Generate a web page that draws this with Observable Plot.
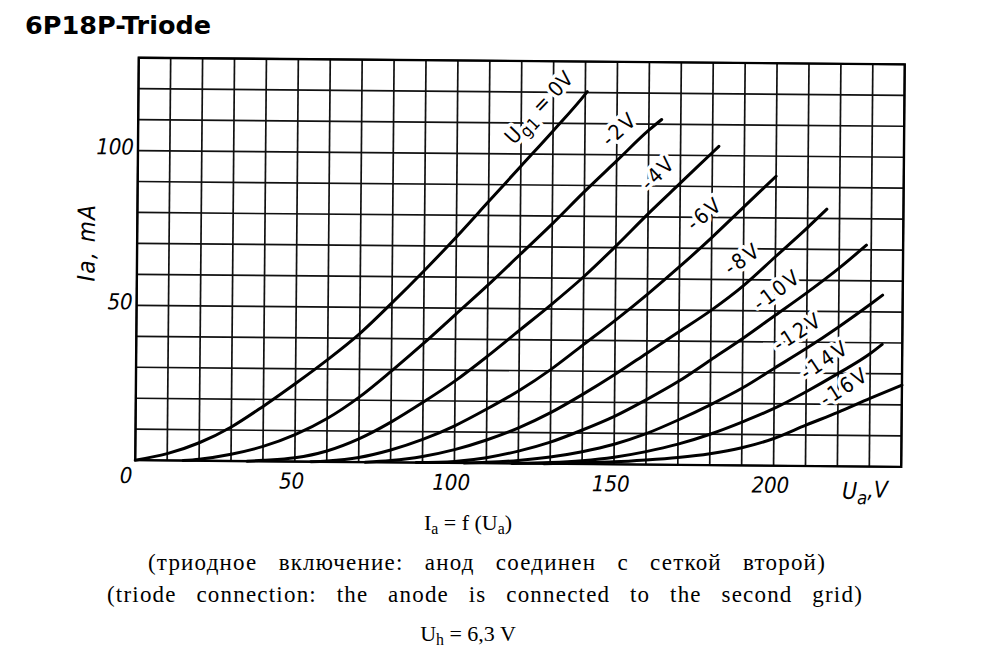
<!DOCTYPE html>
<html>
<head>
<meta charset="utf-8">
<script src="https://cdn.jsdelivr.net/npm/d3@7"></script>
<script src="https://cdn.jsdelivr.net/npm/@observablehq/plot@0.6"></script>
<style>
  html, body { margin: 0; padding: 0; background: #fff; }
  #wrap { position: relative; width: 991px; height: 660px; overflow: hidden; background: #fff; }
  #title { position: absolute; left: 25px; top: 10px; font: bold 25.5px "DejaVu Sans", sans-serif; color: #000; white-space: nowrap; }
  #chart { position: absolute; left: 0; top: 40px; transform: rotate(0.5deg); transform-origin: 519.5px 221.75px; }
  .cap { position: absolute; white-space: nowrap; font-family: "Liberation Serif", "DejaVu Serif", serif; font-size: 22px; line-height: 22px; color: #000; transform: translateX(-50%); }
  .cap.wide { font-size: 23px; line-height: 23px; }
  .cap sub { font-size: 0.72em; vertical-align: -0.28em; line-height: 0; }
  .curve-labels text { letter-spacing: 2.5px; }
  .ylab text { letter-spacing: 1.5px; }
</style>
</head>
<body>
<div id="wrap">
  <div id="title">6P18P-Triode</div>
  <div id="chart"></div>
  <div class="cap" id="cap1" style="left:468px;top:512px">I<sub>a</sub> = f (U<sub>a</sub>)</div>
  <div class="cap wide" id="cap2" style="left:487px;top:551px">(триодное включение: анод соединен с сеткой второй)</div>
  <div class="cap wide" id="cap3" style="left:485px;top:583px">(triode connection: the anode is connected to the second grid)</div>
  <div class="cap" id="cap4" style="left:468px;top:623px">U<sub>h</sub> = 6,3 V</div>
</div>
<script>
// Anode characteristic curves: [Ua (V), Ia (mA)] for each grid voltage Ug1
const ug0  = [[0,0],[10,2.2],[20,5.8],[30,11],[40,17.8],[50,25.2],[60,33],[70,41.5],[80,51.5],[90,62],[100,73],[110,84.5],[120,96],[130,107.5],[140,119.5],[140.6,120.3]];
const ug2  = [[15,0],[20,0.5],[30,2.2],[40,4.8],[50,8.7],[60,14],[70,21],[80,29.5],[90,38.5],[100,48],[110,57.5],[120,67.5],[130,77.5],[140,88],[150,98],[160,108],[164,111.5]];
const ug4  = [[35,0],[40,0.3],[50,1.2],[60,3.5],[70,7.5],[80,13],[90,19.5],[100,26.5],[110,34.5],[120,43],[130,51.5],[140,60.5],[150,70.5],[160,81],[170,91],[180,101],[182,103]];
const ug6  = [[55,0],[60,0.3],[70,1.5],[80,4],[90,7.5],[100,12],[110,17.5],[120,23.5],[130,30.5],[140,38.5],[150,46.5],[160,55],[170,64],[180,73.5],[190,83.5],[200,93.5]];
const ug8  = [[72,0],[80,0.6],[90,2],[100,4.3],[110,7.5],[120,11.5],[130,16.5],[140,22.5],[150,29],[160,36],[170,43],[180,50],[190,58],[200,67.5],[210,77],[216,83]];
const ug10 = [[88,0],[100,0.5],[110,1.8],[120,4],[130,7],[140,11],[150,15.5],[160,21],[170,27],[180,34],[190,41],[200,48.5],[210,56],[220,64],[228.5,71.5]];
const ug12 = [[103,0],[110,0.3],[120,1],[130,2.2],[140,4],[150,6.5],[160,10],[170,14.5],[180,19.5],[190,25],[200,31.5],[210,38],[220,45],[230,52.5],[233.7,55.4]];
const ug14 = [[118,0],[130,0.4],[140,1.1],[150,2.3],[160,4.2],[170,6.7],[180,10],[190,14],[200,18.5],[210,24],[220,30],[230,36.5],[233.7,39.5]];
const ug16 = [[128,0],[140,0.4],[150,0.8],[160,1.5],[170,2.4],[180,3.7],[190,5.7],[200,8.8],[210,13.2],[220,17.4],[230,22],[240,26.4]];

const gridVoltages = ["0V","-2V","-4V","-6V","-8V","-10V","-12V","-14V","-16V"];
const curveSets = [ug0, ug2, ug4, ug6, ug8, ug10, ug12, ug14, ug16];

// Curve labels (text and where they sit, in data units)
const labelTexts = ["Ug1 = 0V","-2V","-4V","-6V","-8V","-10V","-12V","-14V","-16V"];
const labelU = [125.8, 150.9, 163.1, 177.8, 189.8, 200.7, 207.3, 215.8, 222];
const labelI = [114.8, 108.2, 94.2, 81.1, 66.6, 56.7, 43.2, 34.2, 25.6];
const labelAngle = [-47, -42, -45, -40, -36, -37, -33, -34, -33];

// Axes
const xTickLabels = [0, 50, 100, 150, 200];
const yTickLabels = [50, 100];
const gridU = d3.range(0, 241, 10);
const gridI = d3.range(0, 131, 10);

const rows = curveSets.flatMap((set, k) => set.map(([U, I]) => ({grid: gridVoltages[k], U, I})));
const labelRows = labelTexts.map((t, k) => ({text: t, U: labelU[k], I: labelI[k], angle: labelAngle[k]}));

const narrow = '"Liberation Sans Narrow", "DejaVu Sans Condensed", "Liberation Sans", sans-serif';
const tickFont = {fontFamily: narrow, fontStyle: "italic", fontSize: 22, fill: "#000"};
const labelFont = {fontFamily: narrow, fontSize: 21, x: "U", y: "I", text: "text", rotate: "angle", className: "curve-labels"};

const plot = Plot.plot({
  width: 991,
  height: 470,
  marginTop: 20.5,
  marginBottom: 47,
  marginLeft: 136.5,
  marginRight: 88.5,
  x: {domain: [0, 240], axis: null},
  y: {domain: [0, 130], axis: null},
  style: {background: "white", overflow: "visible"},
  marks: [
    Plot.ruleX(gridU, {stroke: "#111", strokeWidth: 1.7}),
    Plot.ruleY(gridI, {stroke: "#111", strokeWidth: 1.7}),
    // white knock-out behind labels (breaks the grid, not the curves)
    Plot.text(labelRows, {...labelFont, fill: "white", stroke: "white", strokeWidth: 7}),
    Plot.frame({stroke: "#000", strokeWidth: 2.4}),
    Plot.line(rows, {x: "U", y: "I", z: "grid", curve: "monotone-x", stroke: "#000", strokeWidth: 3}),
    Plot.text(labelRows, {...labelFont, fill: "#000"}),
    Plot.text(xTickLabels.filter(d => d > 0), {x: d => d, text: d => String(d), frameAnchor: "bottom", dy: 20, dx: -3, textAnchor: "middle", lineAnchor: "middle", ...tickFont}),
    Plot.text(xTickLabels.filter(d => d === 0), {text: d => String(d), frameAnchor: "bottom-left", dy: 16, dx: -9, textAnchor: "middle", lineAnchor: "middle", ...tickFont}),
    Plot.text(yTickLabels, {y: d => d, text: d => String(d), frameAnchor: "left", dx: -4, dy: -3, textAnchor: "end", lineAnchor: "middle", ...tickFont}),
    Plot.text(["Ia, mA"], {text: d => d, frameAnchor: "left", dx: -50, dy: -16, rotate: -90, textAnchor: "middle", lineAnchor: "middle", className: "ylab", ...tickFont, fontSize: 24}),
    Plot.text(["Ua,V"], {text: d => d, frameAnchor: "bottom-right", dx: -36, dy: 25, textAnchor: "middle", lineAnchor: "middle", className: "ua-label", ...tickFont, fontSize: 23})
  ]
});
document.getElementById("chart").appendChild(plot);

// subscripts
d3.select(plot).selectAll(".curve-labels text").each(function() {
  const t = d3.select(this);
  if (t.text() === "Ug1 = 0V") {
    t.text(null).style("letter-spacing", "0.5px");
    t.append("tspan").text("U");
    t.append("tspan").attr("font-size", "0.8em").attr("dy", "0.3em").text("g1");
    t.append("tspan").attr("dy", "-0.3em").text(" = 0V");
  }
});
d3.select(plot).selectAll(".ua-label text").each(function() {
  const t = d3.select(this);
  t.text(null);
  t.append("tspan").text("U");
  t.append("tspan").attr("font-size", "0.8em").attr("dy", "0.3em").text("a");
  t.append("tspan").attr("dy", "-0.3em").text(",V");
});

// stretch caption lines to their widths in the scan (letter-spaced print with wider word gaps)
const targets = {cap2: 678, cap3: 756};
for (const id in targets) {
  const el = document.getElementById(id);
  el.style.letterSpacing = "1.2px";
  const w = el.getBoundingClientRect().width;
  const spaces = (el.textContent.match(/ /g) || []).length;
  el.style.wordSpacing = Math.max(0, (targets[id] - w) / spaces) + "px";
}
</script>
</body>
</html>
